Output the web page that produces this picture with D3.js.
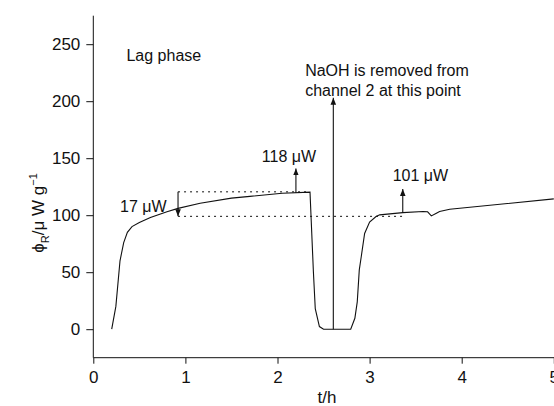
<!DOCTYPE html>
<html lang="en">
<head>
  <meta charset="utf-8">
  <title>Heat flow curve</title>
  <script src="https://d3js.org/d3.v7.min.js"></script>
  <style>
    body { margin: 0; background: #fff; }
    text { font-family: "Liberation Sans", Arial, Helvetica, sans-serif; fill: #111; }
  </style>
</head>
<body>
<script>
// curve: time (h) and phi_R (uW/g)
var tHours = [0.2, 0.245, 0.29, 0.33, 0.37, 0.42, 0.5, 0.62, 0.8, 0.92, 1.16, 1.5, 1.7, 2.05, 2.353,
              2.39, 2.41, 2.455, 2.5, 2.795, 2.84, 2.866, 2.888, 2.91, 2.946, 3.0, 3.07, 3.11, 3.36,
              3.58, 3.63, 3.67, 3.72, 3.76, 3.87, 5.0];
var phiR   = [0, 20, 60, 76, 85, 90, 93.5, 98, 103, 106, 110.5, 115, 116.5, 119.2, 120.2,
              50, 18, 2.3, 0, 0, 9.6, 24, 52, 64, 84, 94, 98.8, 100.3, 102.3,
              103.2, 103, 99.4, 101.5, 103.2, 105.2, 114.3];

var xTicks = [0, 1, 2, 3, 4, 5];
var yTicks = [0, 50, 100, 150, 200, 250];

// arrows: x position (h), start and end value
var arrowT    = [0.92, 2.2, 2.606, 3.36];
var arrowFrom = [120.5, 119.5, 0, 102.3];
var arrowTo   = [99, 141, 203, 123];

var width = 554, height = 406;
var svg = d3.select("body").append("svg")
    .attr("width", width)
    .attr("height", height);

var x = d3.scaleLinear().domain([0, 5]).range([93.3, 553.8]);
var y = d3.scaleLinear().domain([-25, 275]).range([357.7, 15.7]);

var axisG = svg.append("g");

// y axis
var yAxis = axisG.append("g").attr("transform", "translate(" + x(0) + ",0)");
yAxis.call(d3.axisLeft(y).tickValues(d3.range(-25, 276, 25)).tickSize(4).tickFormat(""));
yAxis.call(d3.axisLeft(y).tickValues(yTicks).tickSize(7).tickPadding(6).tickFormat(d3.format("d")));
yAxis.selectAll(".domain").remove();
axisG.append("line")
    .attr("x1", x(0)).attr("x2", x(0))
    .attr("y1", y(275)).attr("y2", y(-25))
    .attr("stroke", "#111");

// x axis
var xAxis = axisG.append("g").attr("transform", "translate(0," + y(-25) + ")");
xAxis.call(d3.axisBottom(x).tickValues(d3.range(0.5, 5, 1)).tickSize(3).tickFormat(""));
xAxis.call(d3.axisBottom(x).tickValues(xTicks).tickSize(6).tickPadding(7).tickFormat(d3.format("d")));
xAxis.selectAll(".domain").remove();
axisG.append("line")
    .attr("x1", x(0)).attr("x2", width)
    .attr("y1", y(-25)).attr("y2", y(-25))
    .attr("stroke", "#111");

axisG.selectAll(".tick line").attr("stroke", "#111");
axisG.selectAll(".tick text")
    .style("font-size", "17px")
    .style("font-family", "'Liberation Sans', Arial, sans-serif")
    .attr("fill", "#111");

// axis titles
svg.append("text")
    .attr("x", 327).attr("y", 403)
    .attr("text-anchor", "middle")
    .style("font-size", "17px")
    .text("t/h");

var yl = svg.append("text")
    .attr("transform", "translate(44,213) rotate(-90)")
    .attr("text-anchor", "middle")
    .style("font-size", "17px");
yl.append("tspan").text("\u03d5");
yl.append("tspan").attr("dy", 5).style("font-size", "11px").text("R");
yl.append("tspan").attr("dy", -5).text("/\u03bc W g");
yl.append("tspan").attr("dy", -7).style("font-size", "11px").text("\u22121");

// dotted guide lines
svg.append("line")
    .attr("x1", x(0.92)).attr("x2", x(2.353))
    .attr("y1", y(120.5)).attr("y2", y(120.5))
    .attr("stroke", "#111").attr("stroke-dasharray", "2,4");
svg.append("line")
    .attr("x1", x(0.92)).attr("x2", x(3.36))
    .attr("y1", y(99)).attr("y2", y(99))
    .attr("stroke", "#111").attr("stroke-dasharray", "2,4");

// curve
var pts = tHours.map(function(t, i) { return [t, phiR[i]]; });
var line = d3.line()
    .x(function(d) { return x(d[0]); })
    .y(function(d) { return y(d[1]); });
svg.append("path")
    .datum(pts)
    .attr("d", line)
    .attr("fill", "none")
    .attr("stroke", "#111")
    .attr("stroke-width", 1.1);

// arrows
svg.append("defs").append("marker")
    .attr("id", "head")
    .attr("viewBox", "0 0 10 10")
    .attr("refX", 10).attr("refY", 5)
    .attr("markerWidth", 7).attr("markerHeight", 7)
    .attr("markerUnits", "userSpaceOnUse")
    .attr("orient", "auto")
  .append("path")
    .attr("d", "M0,1 L10,5 L0,9 Z")
    .attr("fill", "#111");

svg.selectAll(".arrow")
    .data(arrowT)
    .enter().append("line")
    .attr("class", "arrow")
    .attr("x1", function(d) { return x(d); })
    .attr("x2", function(d) { return x(d); })
    .attr("y1", function(d, i) { return y(arrowFrom[i]); })
    .attr("y2", function(d, i) { return y(arrowTo[i]); })
    .attr("stroke", "#111")
    .attr("stroke-width", 1.1)
    .attr("marker-end", "url(#head)");

// annotation texts
function note(tx, vy, str) {
  return svg.append("text")
      .attr("x", x(tx)).attr("y", y(vy))
      .style("font-size", "16px")
      .text(str);
}
note(0.36, 235.5, "Lag phase");
note(2.3, 222, "NaOH is removed from");
note(2.3, 204.6, "channel 2 at this point");
note(1.83, 146.8, "118 \u03bcW");
note(3.25, 130, "101 \u03bcW");
note(0.29, 103, "17 \u03bcW");
</script>
</body>
</html>
